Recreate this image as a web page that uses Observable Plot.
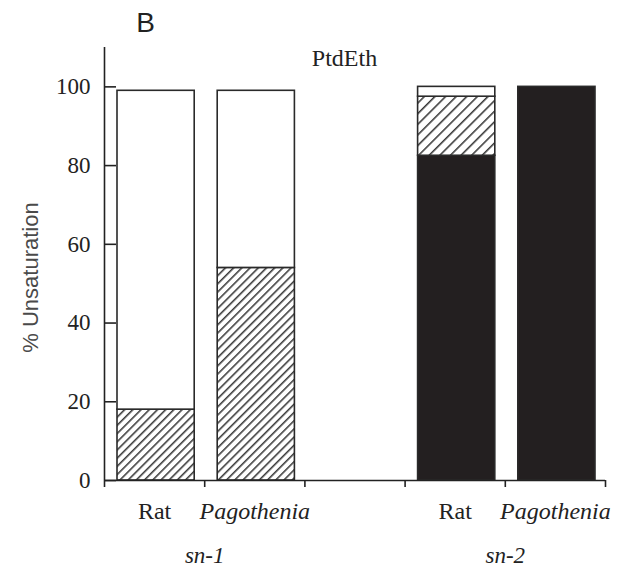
<!DOCTYPE html>
<html><head><meta charset="utf-8">
<script src="https://cdn.jsdelivr.net/npm/d3@7"></script>
<script src="https://cdn.jsdelivr.net/npm/@observablehq/plot@0.6"></script>
<style>body{margin:0;background:#fff} #chart svg{display:block}</style>
</head><body><div id="chart"></div>
<script>
const panelLabel = "B";
const panelTitle = "PtdEth";
const yLabel = "% Unsaturation";
const slots = ["Rat|sn-1", "Pagothenia|sn-1", "", "Rat|sn-2", "Pagothenia|sn-2"];
const barSpecies = ["Rat", "Pagothenia", "Rat", "Pagothenia"];
const barPosition = ["sn-1", "sn-1", "sn-2", "sn-2"];
const seriesNames = ["Polyunsaturated", "Monounsaturated", "Saturated"];
const polyValues = [0, 0, 82.5, 100];
const monoValues = [18, 54, 15, 0];
const satValues = [81, 45, 2.5, 0];
const yTicks = [0, 20, 40, 60, 80, 100];
const groupLabels = ["sn-1", "sn-2"];

const seriesValues = [polyValues, monoValues, satValues];
const rows = [];
barSpecies.forEach((sp, i) => {
  const idx = slots.indexOf(sp + "|" + barPosition[i]);
  let acc = 0;
  seriesNames.forEach((s, k) => {
    const v = seriesValues[k][i];
    if (v > 0) rows.push({species: sp, position: barPosition[i], series: s, x1: idx, x2: idx + 1, y1: acc, y2: acc + v});
    acc += v;
  });
});
const bars = barSpecies.map((sp, i) => ({species: sp, position: barPosition[i], idx: slots.indexOf(sp + "|" + barPosition[i])}));
const groups = groupLabels.map(g => {
  const ids = bars.filter(b => b.position === g).map(b => b.idx);
  return {label: g, x: (d3.min(ids) + d3.max(ids) + 1) / 2};
});
const fillFor = d => d.series === seriesNames[0] ? "#231f20" : d.series === seriesNames[1] ? `url(#hatch-${d.position})` : "#ffffff";

const serif = "Liberation Serif";
const sans = "Liberation Sans";
const chart = Plot.plot({
  width: 625, height: 577,
  marginLeft: 104, marginRight: 20, marginTop: 47, marginBottom: 97,
  style: {background: "#fff", color: "#222"},
  x: {type: "linear", domain: [0, slots.length]},
  y: {domain: [0, 110]},
  color: {type: "identity"},
  marks: [
    Plot.rectY(rows, {x1: "x1", x2: "x2", y1: "y1", y2: "y2", fill: fillFor, stroke: "#2a2a2a", strokeWidth: 1.6, insetLeft: 13, insetRight: 10}),
    Plot.ruleY([0], {stroke: "#222", strokeWidth: 1.6}),
    Plot.ruleX([0], {stroke: "#222", strokeWidth: 1.6}),
    Plot.axisY({ticks: yTicks, tickSize: -12, tickPadding: 26, fontSize: 23, fontFamily: serif, label: null, strokeWidth: 1.6, fill: "#222"}),
    Plot.axisX({ticks: d3.range(slots.length + 1), tickSize: 7, tickFormat: () => "", label: null, strokeWidth: 1.6}),
    Plot.text(bars.filter(b => b.species === "Rat"), {x: d => d.idx + 0.5, y: 0, text: "species", dy: 31, fontSize: 24, fontFamily: serif, lineAnchor: "middle", fill: "#222"}),
    Plot.text(bars.filter(b => b.species !== "Rat"), {x: d => d.idx + 0.5, y: 0, text: "species", dy: 31, fontSize: 24, fontFamily: serif, fontStyle: "italic", lineAnchor: "middle", fill: "#222"}),
    Plot.text(groups, {x: "x", y: 0, text: "label", dy: 75, fontSize: 23, fontFamily: serif, fontStyle: "italic", lineAnchor: "middle", fill: "#222"}),
    Plot.text([panelTitle], {frameAnchor: "top", dx: -10.5, dy: 11, fontSize: 24, fontFamily: serif, textAnchor: "middle", lineAnchor: "middle", fill: "#222"}),
    Plot.text([panelLabel], {frameAnchor: "top-left", dx: 41, dy: -24, fontSize: 28, fontFamily: sans, textAnchor: "middle", lineAnchor: "middle", fill: "#222"}),
    Plot.text([yLabel], {frameAnchor: "left", dx: -74, dy: 13.5, rotate: -90, fontSize: 22, fontFamily: sans, textAnchor: "middle", lineAnchor: "middle", fill: "#4a4a4a"})
  ]
});

const svg = d3.select(chart);
const defs = svg.insert("defs", ":first-child");
[["sn-1", 5.8], ["sn-2", 7.5]].forEach(([g, w]) => {
  const p = defs.append("pattern").attr("id", "hatch-" + g).attr("patternUnits", "userSpaceOnUse")
    .attr("width", w).attr("height", w).attr("patternTransform", "rotate(45)");
  p.append("rect").attr("width", w).attr("height", w).attr("fill", "#fff");
  p.append("line").attr("x1", 0.8).attr("x2", 0.8).attr("y1", 0).attr("y2", w).attr("stroke", "#222").attr("stroke-width", 1.4);
});
document.getElementById("chart").appendChild(chart);
</script>
</body></html>
